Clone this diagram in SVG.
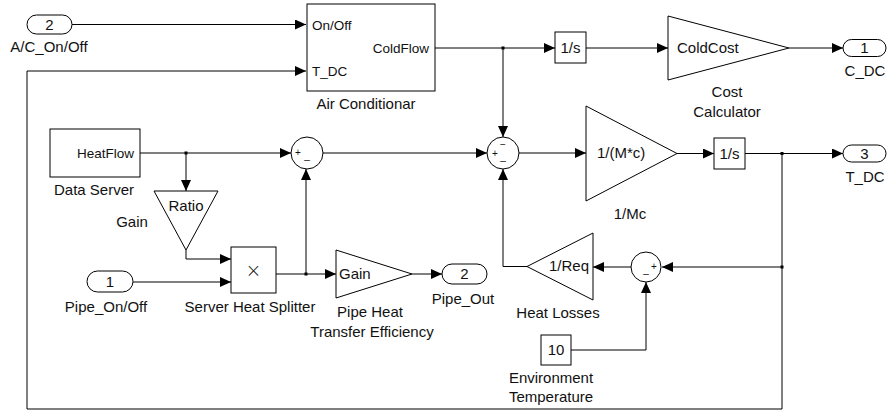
<svg xmlns="http://www.w3.org/2000/svg" width="888" height="414" viewBox="0 0 888 414">
<defs>
<marker id="a" markerWidth="11" markerHeight="10" refX="11" refY="5" orient="auto" markerUnits="userSpaceOnUse"><path d="M0,0 L11,5 L0,10 z" fill="#000"/></marker>
<style>
.b{fill:#fff;stroke:#000;stroke-width:1}
.w{fill:none;stroke:#000;stroke-width:1}
.t{font-family:"Liberation Sans",Arial,sans-serif;font-size:15px;fill:#111}
.p{font-family:"Liberation Sans",Arial,sans-serif;font-size:13.5px;fill:#111}
.s{font-family:"Liberation Sans",Arial,sans-serif;font-size:10px;fill:#111}
.x{font-family:"DejaVu Sans",sans-serif;font-size:19px;font-weight:200;fill:#222}
.m{text-anchor:middle}
.e{text-anchor:end}
.d{fill:#000}
</style>
</defs>
<rect width="888" height="414" fill="#fff"/>
<g id="connectors">
<path class="w" d="M72,24.5 H306" marker-end="url(#a)"/>
<path class="w" d="M435,48 H555" marker-end="url(#a)"/>
<path class="w" d="M503,48 V137" marker-end="url(#a)"/>
<path class="w" d="M586,48 H668" marker-end="url(#a)"/>
<path class="w" d="M789,48 H843" marker-end="url(#a)"/>
<path class="w" d="M140,153 H291" marker-end="url(#a)"/>
<path class="w" d="M186,153 V191" marker-end="url(#a)"/>
<path class="w" d="M186,250 V259 H231" marker-end="url(#a)"/>
<path class="w" d="M133,282 H231" marker-end="url(#a)"/>
<path class="w" d="M276,274 H336" marker-end="url(#a)"/>
<path class="w" d="M306,274 V169" marker-end="url(#a)"/>
<path class="w" d="M323,153 H487" marker-end="url(#a)"/>
<path class="w" d="M519,153 H586" marker-end="url(#a)"/>
<path class="w" d="M677,153.5 H714" marker-end="url(#a)"/>
<path class="w" d="M745,153.5 H843" marker-end="url(#a)"/>
<path class="w" d="M782,153.5 V409 H27 V71 H306" marker-end="url(#a)"/>
<path class="w" d="M782,267 H662" marker-end="url(#a)"/>
<path class="w" d="M631,267 H593" marker-end="url(#a)"/>
<path class="w" d="M527,266.5 H503 V169" marker-end="url(#a)"/>
<path class="w" d="M571,350 H646 V282" marker-end="url(#a)"/>
<path class="w" d="M412,274 H442" marker-end="url(#a)"/>
<rect class="d" x="501.5" y="46.5" width="3" height="3"/>
<rect class="d" x="184.5" y="151.5" width="3" height="3"/>
<rect class="d" x="304.5" y="272.5" width="3" height="3"/>
<rect class="d" x="780.5" y="152" width="3" height="3"/>
<rect class="d" x="780.5" y="265.5" width="3" height="3"/>
</g>
<g id="in_ac">
<rect class="b" x="27" y="15" width="45" height="19" rx="9.5"/>
<text class="t m" x="49.5" y="30">2</text>
<text class="t m" x="49" y="52">A/C_On/Off</text>
</g>
<g id="air_conditioner">
<rect class="b" x="307" y="4" width="128" height="87"/>
<text class="p" x="312" y="30">On/Off</text>
<text class="p" x="312" y="76">T_DC</text>
<text class="p e" x="429" y="53">ColdFlow</text>
<text class="t m" x="366" y="109">Air Conditionar</text>
</g>
<g id="int_cold">
<rect class="b" x="555" y="32" width="31" height="31"/>
<text class="t m" x="570.5" y="53">1/s</text>
</g>
<g id="cost_calc">
<path class="b" d="M668,16 L789,48 L668,80 z"/>
<text class="t" x="677" y="53">ColdCost</text>
<text class="t m" x="727" y="97">Cost</text>
<text class="t m" x="727" y="117">Calculator</text>
</g>
<g id="out_cdc">
<rect class="b" x="843" y="39.5" width="43" height="17" rx="8.5"/>
<text class="t m" x="864.5" y="53">1</text>
<text class="t m" x="865" y="76">C_DC</text>
</g>
<g id="data_server">
<rect class="b" x="50" y="129" width="90" height="48"/>
<text class="p e" x="134" y="158">HeatFlow</text>
<text class="t m" x="94" y="195">Data Server</text>
</g>
<g id="ratio_gain">
<path class="b" d="M154,191 L218,191 L186,250 z"/>
<text class="t m" x="186" y="211">Ratio</text>
<text class="t m" x="132" y="227">Gain</text>
</g>
<g id="in_pipe">
<rect class="b" x="87" y="271" width="46" height="21" rx="10.5"/>
<text class="t m" x="110" y="287">1</text>
<text class="t m" x="106" y="312">Pipe_On/Off</text>
</g>
<g id="splitter">
<rect class="b" x="231" y="247" width="45" height="46"/>
<text class="x m" x="253.5" y="277">×</text>
<text class="t m" x="250" y="312">Server Heat Splitter</text>
</g>
<g id="sum1">
<circle class="b" cx="307" cy="153" r="16"/>
<text class="s m" x="298" y="156">+</text>
<text class="s m" x="307" y="159">_</text>
</g>
<g id="sum2">
<circle class="b" cx="503" cy="153" r="16"/>
<text class="s m" x="495" y="157">+</text>
<text class="s m" x="503" y="148">−</text>
<text class="s m" x="503" y="160">_</text>
</g>
<g id="mc_gain">
<path class="b" d="M586,106 L677,153.5 L586,201 z"/>
<text class="t" x="597" y="158">1/(M*c)</text>
<text class="t m" x="630" y="219">1/Mc</text>
</g>
<g id="int_temp">
<rect class="b" x="714" y="138" width="31" height="31"/>
<text class="t m" x="729.5" y="159">1/s</text>
</g>
<g id="out_tdc">
<rect class="b" x="843" y="145" width="43" height="17" rx="8.5"/>
<text class="t m" x="864.5" y="159">3</text>
<text class="t m" x="865" y="182">T_DC</text>
</g>
<g id="sum3">
<circle class="b" cx="646" cy="267" r="15"/>
<text class="s m" x="654" y="270">+</text>
<text class="s m" x="646" y="273">_</text>
</g>
<g id="heat_losses">
<path class="b" d="M593,233 L527,266.5 L593,300 z"/>
<text class="t m" x="569" y="271">1/Req</text>
<text class="t m" x="558" y="318">Heat Losses</text>
</g>
<g id="env_temp">
<rect class="b" x="541" y="335" width="30" height="30"/>
<text class="t m" x="556" y="355">10</text>
<text class="t m" x="551" y="383">Environment</text>
<text class="t m" x="551" y="402">Temperature</text>
</g>
<g id="pipe_gain">
<path class="b" d="M336,250 L412,274 L336,298 z"/>
<text class="t" x="339" y="279">Gain</text>
<text class="t m" x="370" y="317">Pipe Heat</text>
<text class="t m" x="372" y="337">Transfer Efficiency</text>
</g>
<g id="out_pipe">
<rect class="b" x="442" y="264" width="45" height="20" rx="10"/>
<text class="t m" x="464.5" y="279">2</text>
<text class="t m" x="463" y="304">Pipe_Out</text>
</g>
</svg>
